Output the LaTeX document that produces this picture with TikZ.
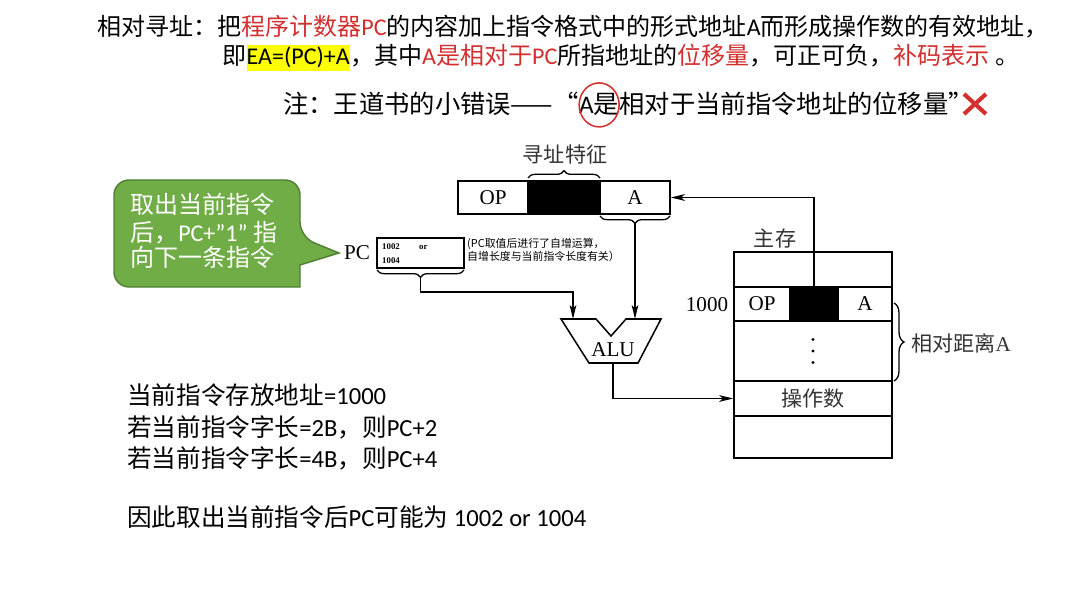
\documentclass[tikz,border=0pt]{standalone}
\usepackage{fontspec}
\setmainfont{Carlito}
\newfontfamily\cjk{Noto Sans CJK SC}
\newfontfamily\tms{Liberation Serif}
\usepackage{tikz}
\usetikzlibrary{arrows.meta, decorations.pathreplacing, positioning, calc}
\definecolor{keyred}{HTML}{D32F2F}
\definecolor{markyellow}{HTML}{FFFF00}
\definecolor{tipgreen}{HTML}{70AD47}
\definecolor{tipedge}{HTML}{507E32}
\newcommand{\en}[1]{{\rmfamily #1}}

\begin{document}
\begin{tikzpicture}[
    x=0.03cm, y=-0.03cm,
    slide/.style={font=\fontsize{20.5}{24}\selectfont\cjk, inner sep=0},
    notetxt/.style={font=\fontsize{21.6}{25}\selectfont\cjk, inner sep=0},
    body/.style={font=\fontsize{21}{25}\selectfont\cjk, inner sep=0, anchor=base west},
    serif/.style={font=\fontsize{18}{21}\selectfont\tms},
    cnlab/.style={font=\fontsize{18}{21}\selectfont\cjk, text=black!80},
    memo/.style={font=\fontsize{9.3}{11}\selectfont\cjk, inner sep=0, anchor=base west},
    pcval/.style={font=\fontsize{7.5}{9}\selectfont\tms\bfseries, inner sep=0, anchor=base west},
    field/.style={draw, line width=1.3pt, inner sep=0, minimum height=0.99cm, font=\fontsize{18}{21}\selectfont\tms},
    memrow/.style={draw, line width=1.3pt, inner sep=0, minimum width=4.74cm},
    conn/.style={line width=1.3pt, -{Stealth[length=0.42cm, width=0.2cm, inset=0.1cm]}},
    curly/.style={decorate, decoration={brace, amplitude=0.22cm}, line width=1.1pt}
]
% Background
\fill[white] (0,0) rectangle (1082,594);

% Title
\node[slide, anchor=base west] (ln1) at (97,36) {相对寻址：把\textcolor{keyred}{程序计数器\en{PC}}的内容加上指令格式中的形式地址\en{A}而形成操作数的有效地址，};
\node[slide, anchor=base west] (ln2a) at (222,65) {即};
\node[slide, base right=0pt of ln2a, fill=markyellow, inner ysep=0.07cm] (ln2b) {\en{EA=(PC)+A}};
\node[slide, base right=0pt of ln2b] (ln2c) {，其中\textcolor{keyred}{\en{A}是相对于\en{PC}}所指地址的\textcolor{keyred}{位移量}，可正可负，\textcolor{keyred}{补码表示} 。};

% Note
\node[notetxt, anchor=base west] (nt1) at (283,114) {注：王道书的小错误——“};
\node[notetxt, base right=0pt of nt1] (nt2) {\en{A}是};
\node[notetxt, base right=0pt of nt2] (nt3) {相对于当前指令地址的位移量”};
\draw[keyred, line width=1.3pt] (nt2.center) ellipse [x radius=0.6cm, y radius=0.66cm];
\draw[keyred, line width=3.5pt] (964,94) -- (986,114) (964,114) -- (986,94);

% Callout
\filldraw[fill=tipgreen, draw=tipedge, line width=1.2pt] (207,180) [rounded corners=0.45cm] -- (300,180) -- (300,237) [sharp corners] -- (339,253) -- (300,265) -- (300,287) [rounded corners=0.45cm] -- (114,287) -- (114,180) -- cycle;
\node[slide, anchor=base west, text=white] (tip1) at (130,214) {取出当前指令};
\node[slide, anchor=base west, text=white] (tip2) at (130,241) {后，\en{PC+”1”} 指};
\node[slide, anchor=base west, text=white] (tip3) at (130,267) {向下一条指令};

% Instruction register
\node[field, minimum width=2.1cm] (irop) at (493,197.5) {OP};
\node[field, minimum width=2.16cm, fill=black] (irblk) at (564,197.5) {};
\node[field, minimum width=2.1cm] (ira) at (635,197.5) {A};
\node[cnlab] (feat) at (565,154) {寻址特征};
\draw[curly] (528,178) -- (600,178);
\draw[curly] (670,216) -- (600,216);
\coordinate (abr) at (635,223);

% PC
\node[serif] (pclab) at (357,253) {PC};
\node[draw, line width=1.1pt, minimum width=2.61cm, minimum height=0.9cm, inner sep=0] (pcreg) at (420.5,253) {};
\node[pcval] (pcv1) at (382,249) {1002};
\node[pcval] (pcor) at (419,249) {or};
\node[pcval] (pcv2) at (382,263) {1004};
\node[memo] (pcnote1) at (467,248) {(PC取值后进行了自增运算，};
\node[memo] (pcnote2) at (467,261) {自增长度与当前指令长度有关）};
\draw[curly] (464,270) -- (377,270);
\coordinate (pcbr) at (420.5,277);

% ALU
\draw[line width=1.3pt, fill=white] (561,319) -- (596,319) -- (611,336) -- (626,319) -- (661,319) -- (638,363) -- (589,363) -- cycle;
\node[serif] (alu) at (613,350) {ALU};
\coordinate (alul) at (573,319);
\coordinate (alur) at (635,319);
\coordinate (aluout) at (613,363);

% Main memory
\node[cnlab] (memlab) at (775,238) {主存};
\node[memrow, minimum height=1.05cm] (m0) at (813,269.5) {};
\node[field, minimum width=1.68cm, minimum height=1.02cm] (mop) at (762,304) {OP};
\node[field, minimum width=1.44cm, minimum height=1.02cm, fill=black] (mblk) at (814,304) {};
\node[field, minimum width=1.62cm, minimum height=1.02cm] (ma) at (865,304) {A};
\node[memrow, minimum height=1.8cm] (mdots) at (813,351) {};
\foreach \dy in {-11.5,0,11.5}
  \fill ($(mdots.center)+(0,\dy)$) circle (0.05cm);
\node[memrow, minimum height=1.05cm, font=\fontsize{18}{21}\selectfont\cjk, text=black!80] (mopnd) at (813,398.5) {操作数};
\node[memrow, minimum height=1.26cm] (m4) at (813,437) {};
\node[serif] (addr) at (707,305) {1000};
\draw[curly, decoration={amplitude=0.3cm}] (894,303) -- (894,381);
\node[cnlab, anchor=west] (dist) at (907,343) {相对距离{\tms A}};

% Connectors
\draw[conn] (mblk.north) |- (ira.east);
\draw[conn] (abr) -- (alur);
\draw[conn] (pcbr) -- ++(0,15) -| (alul);
\draw[conn] (aluout) |- (mopnd.west);

% Summary
\node[body] (info1) at (127,404) {当前指令存放地址\en{=1000}};
\node[body] (info2) at (127,436) {若当前指令字长\en{=2B}，则\en{PC+2}};
\node[body] (info3) at (127,467) {若当前指令字长\en{=4B}，则\en{PC+4}};
\node[body] (info4) at (127,526) {因此取出当前指令后\en{PC}可能为 \en{1002 or 1004}};
\end{tikzpicture}
\end{document}
